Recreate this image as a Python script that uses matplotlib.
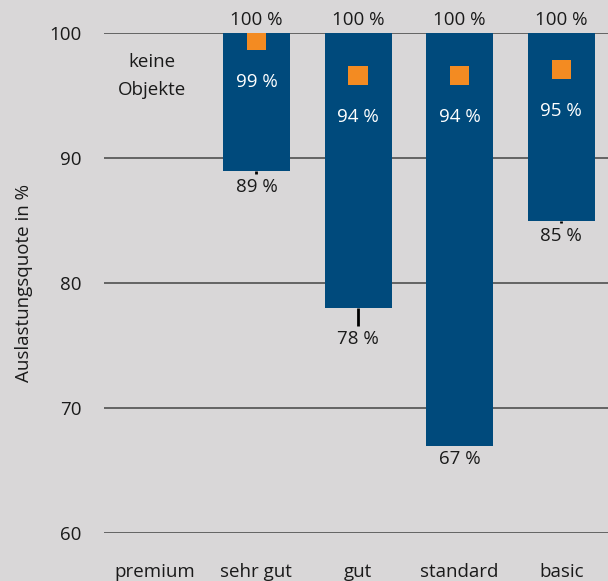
import numpy as np
import matplotlib.pyplot as plt

# Auslastungsquote je Objektklasse
categories = ['premium', 'sehr gut', 'gut', 'standard', 'basic']
q_max = [np.nan, 100, 100, 100, 100]
q_min = [np.nan, 89, 78, 67, 85]
q_low = [np.nan, 88.7, 76.6, 67, 84.8]      # unteres Whisker-Ende
q_median = [np.nan, 99.4, 96.6, 96.6, 97.1]
median_labels = [None, '99 %', '94 %', '94 %', '95 %']

bg = '#d9d7d8'
blue = '#004a7c'
orange = '#f38b22'
txt = '#1a1a1a'

plt.rcParams['font.family'] = ['Open Sans', 'DejaVu Sans']
plt.rcParams['font.size'] = 13.5

fig = plt.figure(figsize=(6.08, 5.81), dpi=100, facecolor=bg)
ax = fig.add_axes([104 / 608, 48 / 581, 1 - 104 / 608, 500 / 581], facecolor=bg)

x = np.arange(len(categories))
ax.set_xlim(-0.5, 4.46)
ax.set_ylim(60, 100)

for y in [60, 70, 80, 90, 100]:
    ax.axhline(y, color='#444444', lw=1.1, zorder=1)

for i in x:
    if np.isnan(q_max[i]):
        ax.text(i - 0.03, 96.55, 'keine\nObjekte', ha='center', va='center',
                color=txt, linespacing=1.75)
        continue
    ax.bar(i, q_max[i] - q_min[i], bottom=q_min[i], width=0.66,
           color=blue, zorder=2)
    if q_low[i] < q_min[i]:
        ax.plot([i, i], [q_low[i], q_min[i]], color='black', lw=2,
                solid_capstyle='butt', zorder=2)
    ax.scatter(i, q_median[i], marker='s', s=190, color=orange, zorder=3,
               edgecolors='none')
    ax.annotate(median_labels[i], (i, q_median[i]), xytext=(0, -30),
                textcoords='offset points', ha='center', va='center',
                color='white')
    ax.annotate(f'{q_max[i]:.0f} %', (i, q_max[i]), xytext=(0, 3),
                textcoords='offset points', ha='center', va='bottom',
                color=txt, annotation_clip=False)
    ax.annotate(f'{q_min[i]:.0f} %', (i, min(q_low[i], q_min[i])),
                xytext=(0, -3), textcoords='offset points', ha='center',
                va='top', color=txt)

ax.set_yticks([60, 70, 80, 90, 100])
ax.set_xticks(x)
ax.set_xticklabels(categories)
ax.tick_params(length=0, colors=txt, labelsize=13.5)
ax.tick_params(axis='y', pad=16)
ax.tick_params(axis='x', pad=21.5)
for s in ax.spines.values():
    s.set_visible(False)
ax.set_ylabel('Auslastungsquote in %', color=txt, labelpad=12)

fig.savefig('out.png', dpi=100, facecolor=bg)
